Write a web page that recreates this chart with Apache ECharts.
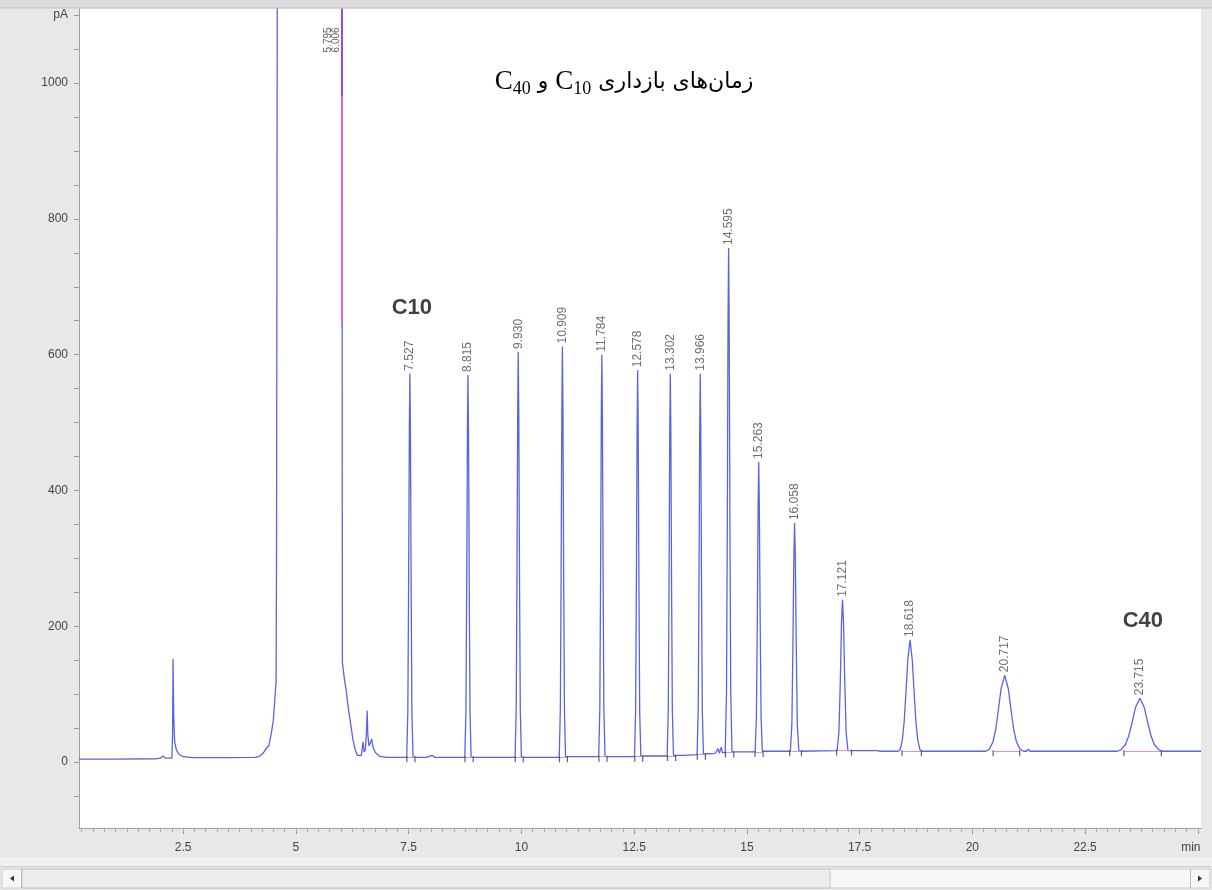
<!DOCTYPE html>
<html>
<head>
<meta charset="utf-8">
<script src="https://cdn.jsdelivr.net/npm/echarts@6/dist/echarts.min.js"></script>
<style>
html,body{margin:0;padding:0;background:#e8e8e8;}
#chart{width:1212px;height:890px;}
</style>
</head>
<body>
<div id="chart"></div>
<script>
// ---- data ----
const trace = [
  [0.19,4.5],[1.0,4.5],[1.9,5],[2.0,6],[2.05,9],[2.1,6],[2.25,6],[2.265,40],[2.275,152],[2.29,70],[2.31,30],[2.35,18],[2.4,12],[2.5,8],[2.7,6.5],[3.5,6.5],
  [4.1,7],[4.2,9],[4.27,13],[4.34,20],[4.4,24],[4.46,45],[4.5,62],[4.54,100],[4.56,118],[4.57,300],[4.59,1300],[5.0,3000],[5.9,3000],[6.02,1300],[6.03,147],
  [6.08,120],[6.12,103],[6.16,80],[6.2,63],[6.26,35],[6.31,19],[6.36,10],[6.4,8],[6.45,10],[6.47,20],[6.49,30],[6.51,15],[6.54,18],[6.565,45],[6.58,76],[6.595,40],
  [6.62,24],[6.65,28],[6.68,34],[6.71,22],[6.76,14],[6.85,9],[7.0,7],[7.3,7],
  [7.457,7],[7.482,75],[7.499,262],[7.515,488],[7.527,572],[7.539,488],[7.555,262],[7.572,75],[7.597,7],
  [7.9,7],[8.02,10],[8.08,7],
  [8.745,7],[8.77,75],[8.787,260],[8.803,486],[8.815,570],[8.827,486],[8.843,260],[8.86,75],[8.885,7],
  [9.86,7],[9.885,79],[9.902,276],[9.918,514],[9.93,604],[9.942,514],[9.958,276],[9.975,79],[10.0,7],
  [10.839,7],[10.864,80],[10.881,279],[10.897,521],[10.909,612],[10.921,521],[10.937,279],[10.954,80],[10.979,8],
  [11.714,8],[11.739,79],[11.756,274],[11.772,511],[11.784,600],[11.796,511],[11.812,274],[11.829,79],[11.854,8],
  [12.508,8],[12.533,76],[12.55,264],[12.566,492],[12.578,577],[12.59,492],[12.606,264],[12.623,76],[12.648,9],
  [13.0,9],
  [13.232,9],[13.257,77],[13.274,262],[13.29,488],[13.302,572],[13.314,488],[13.33,262],[13.347,77],[13.372,10],
  [13.6,10],
  [13.896,11],[13.921,78],[13.938,263],[13.954,488],[13.966,572],[13.978,488],[13.994,263],[14.011,78],[14.036,12],
  [14.3,13],[14.36,20],[14.39,13],[14.43,22],[14.46,14],
  [14.52,14],[14.548,103],[14.566,348],[14.582,646],[14.595,757],[14.608,646],[14.624,348],[14.642,103],[14.67,15],
  [15.183,15],[15.211,66],[15.231,207],[15.25,378],[15.263,442],[15.276,378],[15.295,207],[15.315,66],[15.343,16],
  [15.963,16],[15.998,56],[16.02,167],[16.042,302],[16.058,352],[16.074,302],[16.096,167],[16.118,56],[16.153,16],
  [17.001,17],[17.041,44],[17.071,117],[17.099,206],[17.121,239],[17.143,206],[17.171,117],[17.201,44],[17.241,17],
  [17.9,17],[17.95,16],
  [18.348,16],[18.398,18],[18.448,33],[18.488,60],[18.523,98],[18.568,150],[18.618,180],[18.668,150],[18.713,98],[18.748,60],[18.788,33],[18.838,18],[18.888,16],
  [20.297,16],[20.377,19],[20.457,30],[20.517,48],[20.567,72],[20.637,108],[20.717,128],[20.797,108],[20.867,72],[20.917,48],[20.977,30],[21.057,19],[21.137,16],
  [21.2,16],[21.24,19],[21.28,16],
  [23.215,16],[23.295,18],[23.395,26],[23.465,38],[23.53,55],[23.615,80],[23.715,94],[23.815,80],[23.9,55],[23.965,38],[24.035,26],[24.135,18],[24.215,16],
  [25.07,16]
];
const peakTimes   = [7.527, 8.815, 9.930, 10.909, 11.784, 12.578, 13.302, 13.966, 14.595, 15.263, 16.058, 17.121, 18.618, 20.717, 23.715];
const peakLabels  = ['7.527','8.815','9.930','10.909','11.784','12.578','13.302','13.966','14.595','15.263','16.058','17.121','18.618','20.717','23.715'];
const peakHeights = [572, 570, 604, 612, 600, 577, 572, 572, 757, 442, 352, 239, 180, 128, 94];
const peakStarts  = [7.46, 8.75, 9.865, 10.845, 11.72, 12.515, 13.24, 13.9, 14.525, 15.18, 15.95, 16.99, 18.44, 20.46, 23.36];
const peakEnds    = [7.64, 8.93, 10.04, 11.02, 11.9, 12.69, 13.42, 14.08, 14.71, 15.36, 16.21, 17.32, 18.87, 21.05, 24.19];
const peakBase    = [7, 7, 7, 7, 8, 8, 9, 11, 14, 15, 16, 17, 16, 16, 16];
const solventTime = 6.02;
const solventMarkTop = 1109;
const solventMarkMid = 980;
const solventMarkBottom = 640;
const solventLabelTimes = [5.71, 5.89];
const solventLabels = ['5.795', '6.006'];
const annotationNames = ['C10', 'C40'];
const annotationPeaks = [0, 14];   // index into peak arrays
const xTickValues = [2.5, 5, 7.5, 10, 12.5, 15, 17.5, 20, 22.5, 25];
const xTickLabels = ['2.5', '5', '7.5', '10', '12.5', '15', '17.5', '20', '22.5', 'min'];
const yTickValues = [0, 200, 400, 600, 800, 1000, 1100];
const yTickLabels = ['0', '200', '400', '600', '800', '1000', 'pA'];

// ---- chart ----
const X_MIN = 0.19, X_MAX = 25.07, Y_MIN = -97, Y_MAX = 1109;
const minorX = [];
for (let i = 1; i <= 100; i++) { const v = i * 0.25; if (v > X_MIN && v <= X_MAX) minorX.push(v); }
const minorY = [];
for (let v = -50; v <= 1100; v += 50) minorY.push(v);

const chart = echarts.init(document.getElementById('chart'), null, {renderer: 'canvas'});
const FONT = 'Liberation Sans, Arial, sans-serif';

const option = {
  backgroundColor: '#e8e8e8',
  animation: false,
  grid: {left: 79, right: 11, top: 9, bottom: 62, show: true, backgroundColor: '#ffffff', borderWidth: 0},
  xAxis: [{
    type: 'value', min: X_MIN, max: X_MAX, position: 'bottom',
    axisLine: {show: true, onZero: false, lineStyle: {color: '#a0a0a0', width: 1}},
    axisTick: {show: true, customValues: xTickValues, length: 6, lineStyle: {color: '#8c8c8c'}},
    axisLabel: {
      show: true, customValues: xTickValues, margin: 14, fontSize: 12, color: '#444', fontFamily: FONT,
      formatter: v => {
        const i = xTickValues.indexOf(v);
        if (i < 0) return '';
        return i === xTickValues.length - 1 ? '{m|' + xTickLabels[i] + '}' : xTickLabels[i];
      },
      rich: {m: {fontSize: 12, color: '#444', fontFamily: FONT, padding: [0, 14, 0, 0]}}
    },
    splitLine: {show: false}
  }, {
    type: 'value', min: X_MIN, max: X_MAX, position: 'bottom',
    axisLine: {show: false, onZero: false},
    axisTick: {show: true, customValues: minorX, length: 4, lineStyle: {color: '#a8a8a8'}},
    axisLabel: {show: false},
    splitLine: {show: false}
  }],
  yAxis: {
    type: 'value', min: Y_MIN, max: Y_MAX,
    axisLine: {show: true, onZero: false, lineStyle: {color: '#a0a0a0', width: 1}},
    axisTick: {show: true, customValues: minorY, length: 5, lineStyle: {color: '#9a9a9a'}},
    axisLabel: {
      show: true, customValues: yTickValues, margin: 11, fontSize: 12, color: '#444', fontFamily: FONT,
      formatter: v => { const i = yTickValues.indexOf(v); return i >= 0 ? yTickLabels[i] : ''; }
    },
    splitLine: {show: false}
  },
  graphic: [
    {type: 'rect', shape: {x: 0, y: 0, width: 1212, height: 8}, style: {fill: '#dcdcdc'}, z: 0},
    {type: 'line', shape: {x1: 0, y1: 8, x2: 1212, y2: 8}, style: {stroke: '#c4c4c4', lineWidth: 1}},
    {type: 'rect', shape: {x: 0, y: 857, width: 1212, height: 9}, style: {fill: '#f1f1f1'}},
    {type: 'line', shape: {x1: 0, y1: 866.5, x2: 1212, y2: 866.5}, style: {stroke: '#cfcfcf', lineWidth: 1}},
    {type: 'rect', shape: {x: 2, y: 869, width: 1208, height: 19}, style: {fill: '#f6f6f6', stroke: '#cdcdcd', lineWidth: 1}},
    {type: 'rect', shape: {x: 22, y: 869, width: 808, height: 19}, style: {fill: '#ececec', stroke: '#c6c6c6', lineWidth: 1}},
    {type: 'line', shape: {x1: 21.5, y1: 869, x2: 21.5, y2: 888}, style: {stroke: '#bdbdbd', lineWidth: 1}},
    {type: 'line', shape: {x1: 1190.5, y1: 869, x2: 1190.5, y2: 888}, style: {stroke: '#bdbdbd', lineWidth: 1}},
    {type: 'polygon', shape: {points: [[10, 878.5], [14, 875.5], [14, 881.5]]}, style: {fill: '#333'}},
    {type: 'polygon', shape: {points: [[1202, 878.5], [1198, 875.5], [1198, 881.5]]}, style: {fill: '#333'}},
    {
      type: 'text', x: 624, y: 82, z: 100,
      style: {
        text: '{c|C}{s|40}{a| و }{c|C}{s|10}{a| زمان‌های بازداری}',
        align: 'center', verticalAlign: 'middle', fill: '#000',
        rich: {
          c: {fontFamily: 'Liberation Serif, Times New Roman, serif', fontSize: 27, lineHeight: 32, fill: '#000'},
          s: {fontFamily: 'Liberation Serif, Times New Roman, serif', fontSize: 18, lineHeight: 19, verticalAlign: 'bottom', fill: '#000'},
          a: {fontFamily: 'DejaVu Sans, Noto Sans, sans-serif', fontSize: 22, lineHeight: 32, fill: '#000'}
        }
      }
    }
  ],
  series: [
    {
      name: 'signal', type: 'line', xAxisIndex: 0, yAxisIndex: 0,
      data: trace, showSymbol: false, symbol: 'none', smooth: false, clip: true,
      lineStyle: {color: '#5a63e3', width: 1.3}, z: 3
    },
    {
      name: 'baselines', type: 'lines', coordinateSystem: 'cartesian2d', xAxisIndex: 0, yAxisIndex: 0,
      data: peakStarts.map((s, i) => ({coords: [[s, peakBase[i]], [peakEnds[i], peakBase[i]]]})),
      lineStyle: {color: '#f27bd6', width: 1.2, opacity: 0.9}, z: 4, silent: true
    },
    {
      name: 'solventMark', type: 'line', xAxisIndex: 0, yAxisIndex: 0,
      data: [[solventTime, solventMarkTop], [solventTime, solventMarkBottom]],
      showSymbol: false, symbol: 'none', lineStyle: {color: '#e35ee6', width: 1.6}, z: 5
    },
    {
      name: 'solventMarkTop', type: 'line', xAxisIndex: 0, yAxisIndex: 0,
      data: [[solventTime, solventMarkTop], [solventTime, solventMarkMid]],
      showSymbol: false, symbol: 'none', lineStyle: {color: '#9147e0', width: 1.8}, z: 5
    },
    {
      name: 'events', type: 'scatter', xAxisIndex: 0, yAxisIndex: 0,
      data: peakStarts.map((s, i) => [s, peakBase[i]]).concat(peakEnds.map((e, i) => [e, peakBase[i]])),
      symbol: 'rect', symbolSize: [1.2, 6], symbolOffset: [0, 2], itemStyle: {color: '#3a3a4a'}, z: 6, silent: true
    },
    {
      name: 'peakLabels', type: 'scatter', xAxisIndex: 0, yAxisIndex: 0,
      data: peakTimes.map((t, i) => [t, peakHeights[i]]),
      symbolSize: 0, silent: true, z: 7,
      label: {
        show: true, position: 'top', distance: 3, rotate: 90, align: 'left', verticalAlign: 'middle',
        fontSize: 12, color: '#4a4a4a', fontFamily: FONT,
        formatter: p => peakLabels[p.dataIndex]
      }
    },
    {
      name: 'solventLabels', type: 'scatter', xAxisIndex: 0, yAxisIndex: 0,
      data: solventLabelTimes.map(t => [t, 1045]),
      symbolSize: 0, silent: true, z: 7,
      label: {
        show: true, position: 'inside', rotate: 90, align: 'left', verticalAlign: 'middle',
        fontSize: 10, color: '#333', fontFamily: FONT,
        formatter: p => solventLabels[p.dataIndex]
      }
    },
    {
      name: 'annotations', type: 'scatter', xAxisIndex: 0, yAxisIndex: 0,
      data: annotationPeaks.map(i => [peakTimes[i], peakHeights[i]]),
      symbolSize: 0, silent: true, z: 8,
      label: {
        show: true, position: 'inside', fontSize: 22, fontWeight: 'bold', color: '#111',
        fontFamily: 'Liberation Sans Narrow, Liberation Sans, Arial, sans-serif',
        formatter: p => annotationNames[p.dataIndex]
      },
      labelLayout: p => (p.dataIndex === 0 ? {dx: 2, dy: -66} : {dx: 3, dy: -77})
    }
  ]
};
chart.setOption(option);
</script>
</body>
</html>
